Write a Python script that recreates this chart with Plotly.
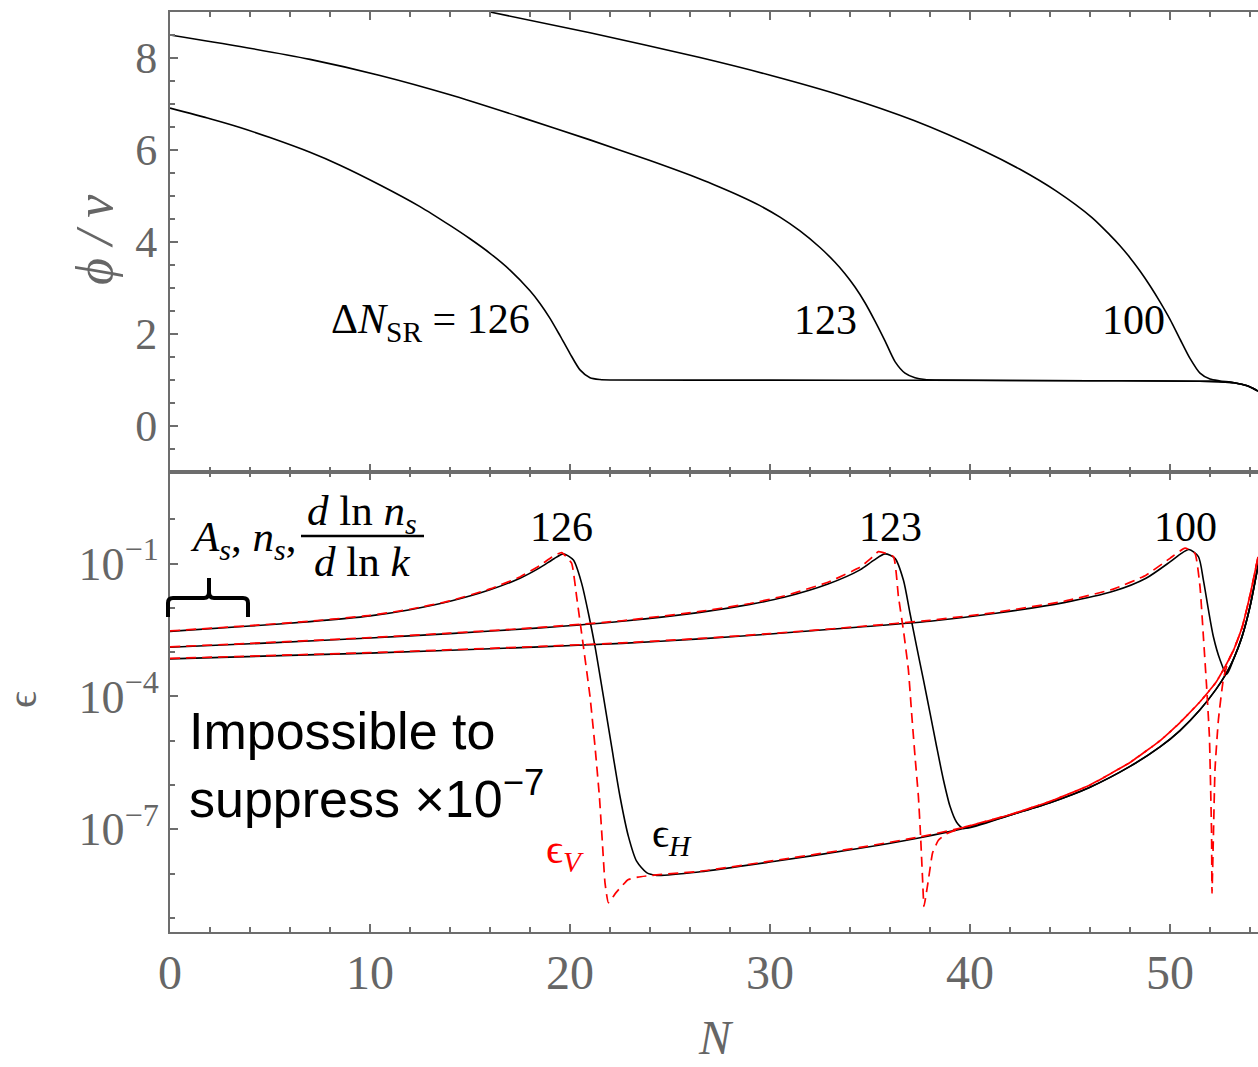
import numpy as np
import plotly.graph_objects as go
from plotly.subplots import make_subplots

# ---------------- data ----------------
# Top panel: phi / v versus N for three Delta N_SR values
N_phi_126 = [0, 2, 3.5, 5, 7, 8.5, 10.5, 12.5, 14, 15, 16, 17, 18, 18.5, 19, 19.5, 20, 20.5, 21, 21.5, 22, 30, 38, 46, 52, 53.2, 53.9, 54.4]
phi_126 = [6.91, 6.68, 6.49, 6.27, 5.95, 5.67, 5.24, 4.77, 4.36, 4.07, 3.755, 3.39, 2.94, 2.665, 2.34, 1.965, 1.575, 1.22, 1.05, 1.01, 1.0, 0.998, 0.993, 0.985, 0.97, 0.94, 0.87, 0.76]

N_phi_123 = [0, 3.5, 7, 10.5, 14, 17.5, 21, 24, 26.5, 27.5, 28.5, 29.5, 30.5, 31.5, 32.5, 33.25, 33.75, 34.25, 34.75, 35.25, 35.75, 36.25, 36.75, 37.25, 37.75, 38.25,
             46, 52, 53.2, 53.9, 54.4]
phi_123 = [8.50, 8.25, 7.97, 7.62, 7.20, 6.72, 6.22, 5.77, 5.37, 5.19, 5.0, 4.79, 4.54, 4.24, 3.88, 3.56, 3.31, 3.02, 2.68, 2.28, 1.85, 1.40, 1.15, 1.05, 1.01, 1.0,
           0.985, 0.97, 0.94, 0.87, 0.76]

N_phi_100 = [16.0, 21, 26.5, 30.06, 33.6, 37.2, 40.7, 42.5, 44.3, 46.1, 47.0, 47.5, 48.0, 48.5, 49.0, 49.5, 50.0, 50.5, 51.0, 51.5, 52.0, 52.5, 53.2, 53.9, 54.4]
phi_100 = [9.0, 8.55, 8.01, 7.62, 7.18, 6.64, 5.98, 5.58, 5.11, 4.53, 4.15, 3.92, 3.66, 3.37, 3.05, 2.70, 2.32, 1.89, 1.47, 1.15, 1.02, 0.98, 0.94, 0.87, 0.76]

# Bottom panel: log10(epsilon) read versus N (solid: eps_H, dashed: eps_V)
N_eH_126 = [0, 4, 7, 10, 12, 14, 16, 17.5, 18.5, 19.2, 19.67, 20.17, 20.58, 20.92, 21.25, 21.67, 22.08, 22.5, 22.92, 23.33, 23.83, 24.33,
            26.5, 30, 34.5, 37.5, 39.67, 42, 44, 46, 48, 49.5, 50.5, 51.5, 52.3, 52.8, 53.2, 53.6, 54.0, 54.45]
log_eH_126 = [-2.53, -2.41, -2.31, -2.18, -2.04, -1.85, -1.59, -1.33, -1.09, -0.89, -0.78, -0.92, -1.44, -2.12, -2.87, -4.0, -5.13, -6.26, -7.16, -7.72, -7.98, -8.04,
              -7.96, -7.74, -7.43, -7.19, -6.98, -6.68, -6.40, -6.05, -5.58, -5.14, -4.77, -4.30, -3.84, -3.49, -3.13, -2.65, -1.97, -0.93]

N_eH_123 = [0, 5, 10, 14, 18.5, 22.6, 26.5, 29, 30.7, 32.9, 34.5, 35.2, 35.75, 36.25, 36.67, 37.0, 37.33, 37.67, 38.0, 38.33, 38.67, 39.0, 39.33, 39.67,
            42, 44, 46, 48, 49.5, 50.5, 51.5, 52.3, 52.8, 53.2, 53.6, 54.0, 54.45]
log_eH_123 = [-2.89, -2.79, -2.68, -2.58, -2.45, -2.30, -2.10, -1.92, -1.76, -1.46, -1.14, -0.92, -0.78, -0.88, -1.37, -2.12, -2.87, -3.62, -4.37, -5.13, -5.88, -6.48, -6.84, -6.98,
              -6.68, -6.40, -6.05, -5.58, -5.14, -4.77, -4.30, -3.84, -3.49, -3.13, -2.65, -1.97, -0.93]

N_eH_100 = [0, 10, 18.5, 22.6, 26.5, 30, 34.5, 38, 41.3, 44.7, 47.2, 48.8, 50.0, 50.5, 50.95, 51.42, 51.67, 51.92, 52.17, 52.5, 52.83,
            53.2, 53.6, 54.0, 54.45]
log_eH_100 = [-3.15, -3.02, -2.88, -2.80, -2.70, -2.59, -2.43, -2.30, -2.12, -1.88, -1.62, -1.33, -0.96, -0.79, -0.68, -0.84, -1.37, -2.04, -2.65, -3.17, -3.50,
              -3.13, -2.65, -1.97, -0.93]

N_eV_126 = [0, 4, 7, 10, 12, 14, 16, 17.5, 18.5, 19.1, 19.58, 20.08, 20.33, 20.67, 21.0, 21.25, 21.47, 21.63, 21.75, 21.92, 22.3, 22.9, 23.4, 24.33,
            26.5, 30, 34.5, 37.5, 39.67, 42, 44, 46, 48, 49.5, 50.5, 51.5, 52.3, 52.8, 53.2, 53.6, 54.0, 54.4]
log_eV_126 = [-2.52, -2.40, -2.30, -2.17, -2.03, -1.84, -1.57, -1.30, -1.04, -0.85, -0.75, -0.99, -1.74, -2.87, -4.0, -5.13, -6.26, -7.38, -8.21, -8.66, -8.43, -8.14, -8.08, -8.03,
              -7.95, -7.72, -7.41, -7.17, -6.96, -6.67, -6.37, -6.00, -5.49, -5.00, -4.59, -4.12, -3.68, -3.29, -2.93, -2.45, -1.72, -0.85]

N_eV_123 = [0, 5, 10, 14, 18.5, 22.6, 26.5, 29, 30.7, 32.9, 34.5, 35.0, 35.42, 36.17, 36.42, 36.67, 36.92, 37.08, 37.25, 37.42, 37.53, 37.63, 37.7,
            37.92, 38.13, 38.42, 38.83, 39.67, 42, 44, 46, 48, 49.5, 50.5, 51.5, 52.3, 52.8, 53.2, 53.6, 54.0, 54.4]
log_eV_123 = [-2.88, -2.78, -2.67, -2.57, -2.44, -2.29, -2.08, -1.90, -1.73, -1.42, -1.08, -0.90, -0.73, -0.84, -1.74, -2.5, -3.4, -4.37, -5.35, -6.26, -7.16, -8.14, -8.74,
              -8.14, -7.53, -7.25, -7.10, -6.96, -6.67, -6.37, -6.00, -5.49, -5.00, -4.59, -4.12, -3.68, -3.29, -2.93, -2.45, -1.72, -0.85]

N_eV_100 = [0, 10, 18.5, 22.6, 26.5, 30, 34.5, 38, 41.3, 44.7, 47.2, 48.8, 50.0, 50.75, 51.25, 51.5, 51.67, 51.83, 51.97, 52.03, 52.08, 52.1,
            52.17, 52.25, 52.42, 52.67, 52.9, 53.2, 53.6, 54.0, 54.4]
log_eV_100 = [-3.14, -3.01, -2.87, -2.79, -2.69, -2.58, -2.42, -2.28, -2.10, -1.85, -1.57, -1.26, -0.88, -0.65, -0.77, -1.52, -2.65, -3.77, -4.9, -6.03, -7.16, -8.44,
              -7.16, -5.65, -4.53, -3.60, -3.22, -2.93, -2.45, -1.72, -0.85]

x_ticks = [0, 10, 20, 30, 40, 50]
phi_ticks = [0, 2, 4, 6, 8]
eps_ticks = [1e-1, 1e-4, 1e-7]
eps_tick_text = ["10<sup>\u22121</sup>", "10<sup>\u22124</sup>", "10<sup>\u22127</sup>"]
eps_minor = [1e0, 1e-2, 1e-3, 1e-5, 1e-6, 1e-8, 1e-9]

# ---------------- figure ----------------
W, H = 1258, 1067
L, R, T, B = 170, 0, 12, 135
AX = "#6d6d6d"
LBL = "#666666"
SERIF = "Liberation Serif, Times New Roman, serif"
SANS = "Liberation Sans, Arial, sans-serif"

fig = make_subplots(rows=2, cols=1, shared_xaxes=True, vertical_spacing=0)

blk = dict(color="black", width=1.6, shape="spline", smoothing=0.7)
red = dict(color="#ff0000", width=1.7, dash="10px,6px", shape="spline", smoothing=0.4)

for nx, ny in [(N_phi_126, phi_126), (N_phi_123, phi_123), (N_phi_100, phi_100)]:
    fig.add_trace(go.Scatter(x=nx, y=ny, mode="lines", line=blk, showlegend=False, hoverinfo="skip"), row=1, col=1)

for nx, ly in [(N_eH_126, log_eH_126), (N_eH_123, log_eH_123), (N_eH_100, log_eH_100)]:
    fig.add_trace(go.Scatter(x=nx, y=np.power(10.0, ly), mode="lines", line=blk, showlegend=False, hoverinfo="skip"), row=2, col=1)
for nx, ly in [(N_eV_126, log_eV_126), (N_eV_123, log_eV_123), (N_eV_100, log_eV_100)]:
    fig.add_trace(go.Scatter(x=nx, y=np.power(10.0, ly), mode="lines", line=red, showlegend=False, hoverinfo="skip"), row=2, col=1)

xcommon = dict(range=[0, 54.4], showline=True, linecolor=AX, linewidth=2, mirror="ticks",
               ticks="inside", ticklen=8, tickwidth=1.5, tickcolor=AX, tickvals=x_ticks,
               minor=dict(dtick=2, tick0=0, ticks="inside", ticklen=5, tickwidth=1.5, tickcolor=AX),
               showgrid=False, zeroline=False)
fig.update_xaxes(**xcommon, showticklabels=False, row=1, col=1)
fig.update_xaxes(**xcommon, showticklabels=True, tickfont=dict(family=SERIF, size=48, color=LBL),
                 ticklabelstandoff=-3, row=2, col=1)

fig.update_yaxes(range=[-1, 9], showline=True, linecolor=AX, linewidth=2, mirror=False,
                 ticks="inside", ticklen=8, tickwidth=1.5, tickcolor=AX, tickvals=phi_ticks,
                 minor=dict(dtick=0.5, tick0=0, ticks="inside", ticklen=5, tickwidth=1.5, tickcolor=AX),
                 tickfont=dict(family=SERIF, size=44, color=LBL), ticklabelstandoff=2,
                 showgrid=False, zeroline=False, row=1, col=1)
fig.update_yaxes(type="log", range=[-9.32, 1.07], showline=True, linecolor=AX, linewidth=2, mirror=False,
                 ticks="inside", ticklen=8, tickwidth=1.5, tickcolor=AX,
                 tickvals=eps_ticks, ticktext=eps_tick_text,
                 minor=dict(tickvals=eps_minor, ticks="inside", ticklen=5, tickwidth=1.5, tickcolor=AX),
                 tickfont=dict(family=SERIF, size=46, color=LBL), ticklabelstandoff=0,
                 showgrid=False, zeroline=False, row=2, col=1)


def px(xp):
    return (xp - L) / (W - L - R)


def py(yp):
    return (H - B - yp) / (H - T - B)


ann = []
# axis titles
ann.append(dict(text="<i>\u03d5 / v</i>", x=px(94), y=py(240), textangle=-90,
                font=dict(family=SERIF, size=52, color=LBL)))
ann.append(dict(text="\u03f5", x=px(22), y=py(700), textangle=-90,
                font=dict(family=SERIF, size=42, color=LBL)))
ann.append(dict(text="<i>N</i>", x=px(716), y=py(1066), yanchor="bottom",
                font=dict(family=SERIF, size=48, color=LBL)))
# top panel labels
ann.append(dict(text="\u0394<i>N</i><sub>SR</sub> = 126", x=px(430), y=py(322),
                font=dict(family=SERIF, size=42, color="black")))
ann.append(dict(text="123", x=px(825), y=py(320), font=dict(family=SERIF, size=42, color="black")))
ann.append(dict(text="100", x=px(1133), y=py(320), font=dict(family=SERIF, size=42, color="black")))
# bottom panel labels
ann.append(dict(text="126", x=px(561), y=py(527), font=dict(family=SERIF, size=42, color="black")))
ann.append(dict(text="123", x=px(890), y=py(527), font=dict(family=SERIF, size=42, color="black")))
ann.append(dict(text="100", x=px(1185), y=py(527), font=dict(family=SERIF, size=42, color="black")))
ann.append(dict(text="<i>A<sub>s</sub></i>, <i>n<sub>s</sub></i>,", x=px(243), y=py(540),
                font=dict(family=SERIF, size=43, color="black")))
ann.append(dict(text="<i>d</i> ln <i>n<sub>s</sub></i>", x=px(362), y=py(514),
                font=dict(family=SERIF, size=43, color="black")))
ann.append(dict(text="<i>d</i> ln <i>k</i>", x=px(362), y=py(561),
                font=dict(family=SERIF, size=43, color="black")))
ann.append(dict(text="Impossible to<br>suppress \u00d710<sup>\u22127</sup>", x=px(187), y=py(700),
                xanchor="left", yanchor="top", align="left",
                font=dict(family=SANS, size=52, color="black")))
ann.append(dict(text="\u03f5<sub><i>V</i></sub>", x=px(565), y=py(852),
                font=dict(family=SERIF, size=42, color="#ff0000")))
ann.append(dict(text="\u03f5<sub><i>H</i></sub>", x=px(672), y=py(836),
                font=dict(family=SERIF, size=42, color="black")))

for a in ann:
    a.setdefault("xanchor", "center")
    a.setdefault("yanchor", "middle")
    a.update(xref="paper", yref="paper", showarrow=False)

shapes = []
# fraction bar
shapes.append(dict(type="line", xref="paper", yref="paper", x0=px(301), x1=px(424), y0=py(536), y1=py(536),
                   line=dict(color="black", width=2.5)))
# curly brace
pts = "M {a},{b} L {c},{d} Q {c},{e} {f},{e} L {g},{e} Q {h},{e} {h},{i} L {h},{j} L {h},{i} Q {h},{e} {k},{e} L {l},{e} Q {m},{e} {m},{d} L {m},{n}".format(
    a=px(168), b=py(617), c=px(168), d=py(603), e=py(598), f=px(173), g=px(204), h=px(209),
    i=py(592), j=py(578), k=px(214), l=px(243), m=px(248), n=py(617))
shapes.append(dict(type="path", xref="paper", yref="paper", path=pts, line=dict(color="black", width=4)))

fig.update_layout(width=W, height=H, margin=dict(l=L, r=R, t=T, b=B),
                  plot_bgcolor="white", paper_bgcolor="white",
                  annotations=ann, shapes=shapes, showlegend=False)

fig.write_html("out.html")
